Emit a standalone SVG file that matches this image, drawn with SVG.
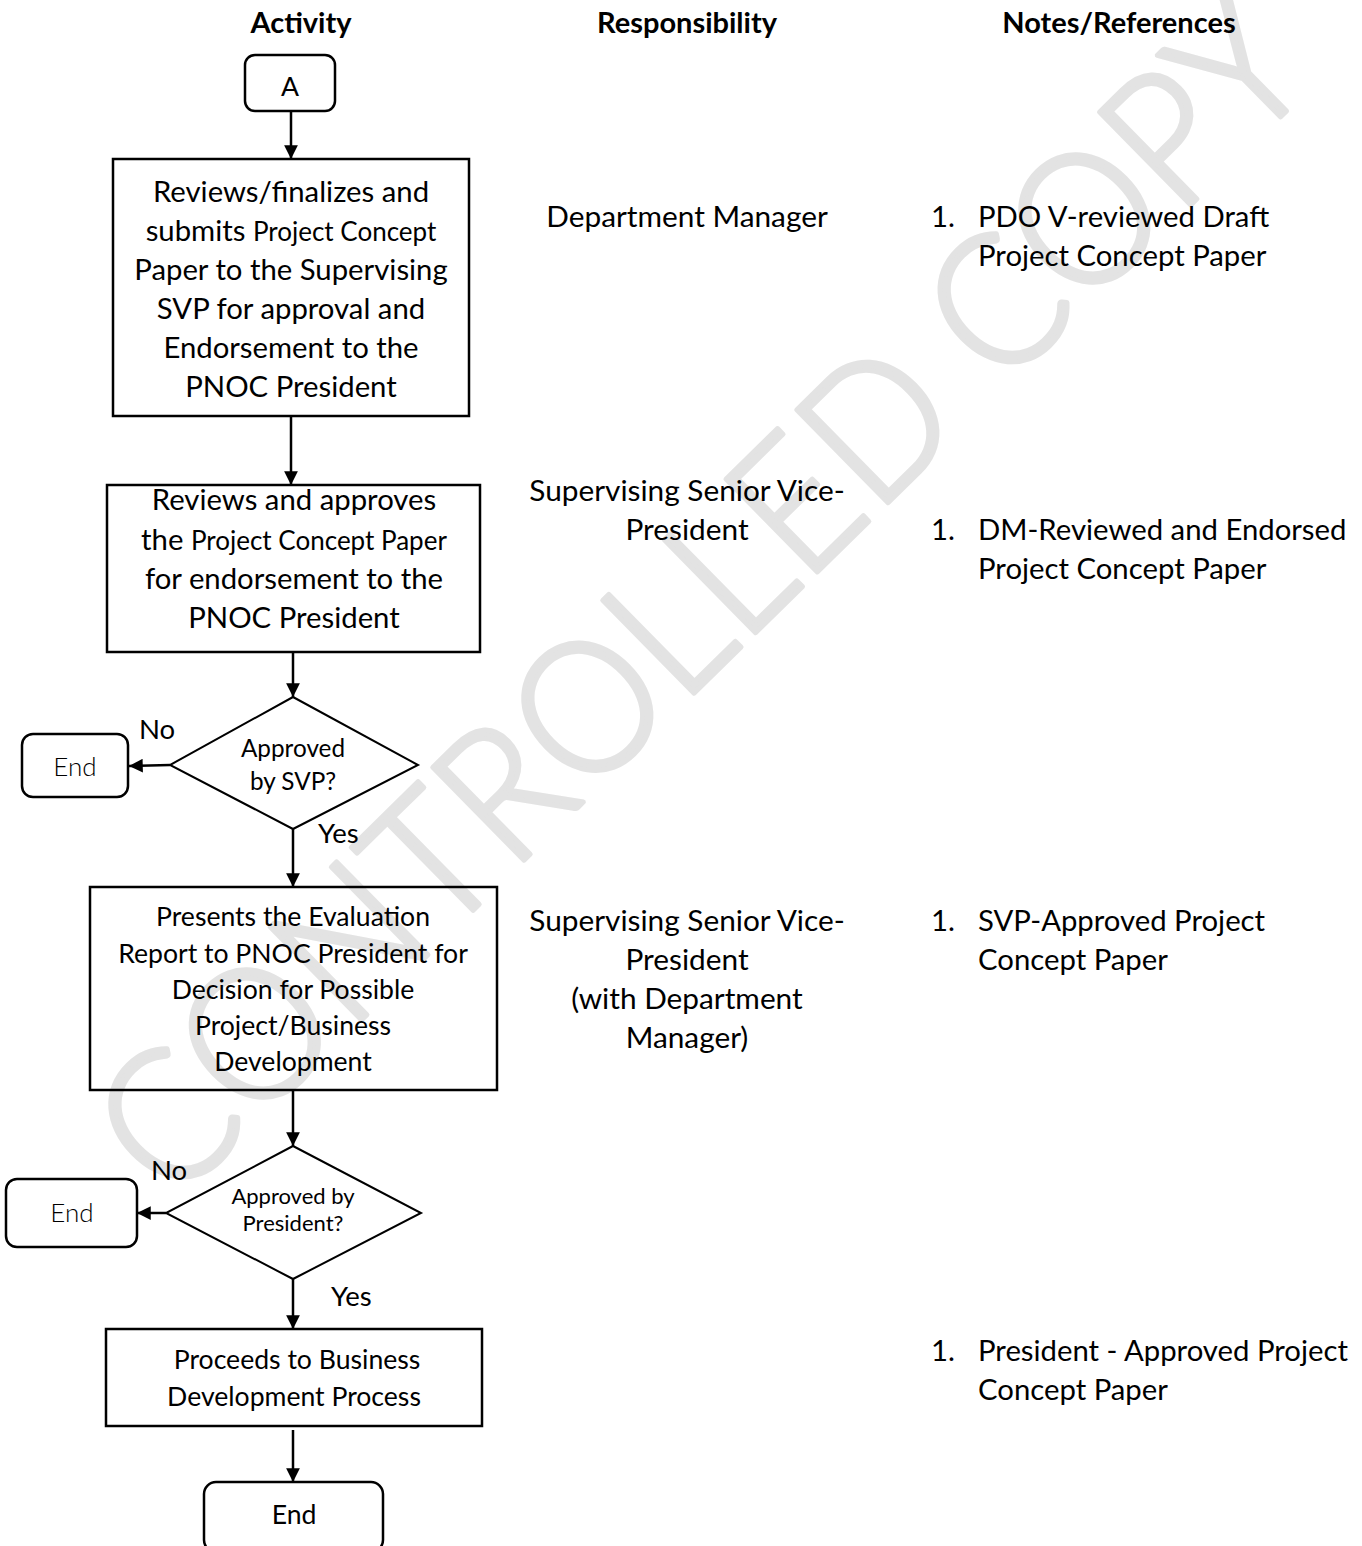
<svg xmlns="http://www.w3.org/2000/svg" width="1362" height="1546" viewBox="0 0 1362 1546">
<style>
text{font-family:Lato,"Open Sans","Liberation Sans",sans-serif;fill:#000}
.hd{font-weight:bold;font-size:29px;text-anchor:middle}
.bx{font-size:29.3px;text-anchor:middle}
.sm{font-size:26px}
.b3{font-size:26.6px;text-anchor:middle}
.d1{font-size:24.3px;text-anchor:middle}
.d2{font-size:22px;text-anchor:middle}
.lb{font-size:27.5px}
.rs{font-size:29.8px;text-anchor:middle}
.nt{font-size:29.3px}
.endl{font-size:26px;font-weight:300;text-anchor:middle}
.shape{fill:none;stroke:#000;stroke-width:2.5}
.dia{fill:none;stroke:#000;stroke-width:2}
.conn{stroke:#000;stroke-width:2.5;fill:none;marker-end:url(#ah)}
.wm{font-family:Lato,"Open Sans",sans-serif;font-weight:300;font-size:184px;fill:#e3e3e3;stroke:#e3e3e3;stroke-width:5;stroke-linejoin:round}
</style>
<defs>
<marker id="ah" viewBox="0 0 10 10" refX="10" refY="5" markerWidth="5.5" markerHeight="5.5" orient="auto" markerUnits="strokeWidth">
<path d="M0,0 L10,5 L0,10 Z" fill="#000"/>
</marker>
</defs>
<rect width="1362" height="1546" fill="#fff"/>
<g id="watermark" transform="translate(-6,-24) rotate(-44.5 748 670)">
<text class="wm" x="-52" y="670" textLength="1610" lengthAdjust="spacingAndGlyphs">CONTROLLED COPY</text>
</g>

<g id="headers">
<text class="hd" x="301" y="33">Activity</text>
<text class="hd" x="687" y="33">Responsibility</text>
<text class="hd" x="1119" y="33">Notes/References</text>
</g>

<g id="connectors">
<line class="conn" x1="291" y1="111" x2="291" y2="159"/>
<line class="conn" x1="291" y1="416" x2="291" y2="485"/>
<line class="conn" x1="293" y1="652" x2="293" y2="697"/>
<line class="conn" x1="170" y1="765" x2="129" y2="766"/>
<line class="conn" x1="293" y1="829" x2="293" y2="887"/>
<line class="conn" x1="293" y1="1090" x2="293" y2="1146"/>
<line class="conn" x1="166" y1="1213" x2="137" y2="1213"/>
<line class="conn" x1="293" y1="1279" x2="293" y2="1329"/>
<line class="conn" x1="293" y1="1430" x2="293" y2="1482"/>
<text class="lb" x="139" y="739">No</text>
<text class="lb" x="318" y="843">Yes</text>
<text class="lb" x="151" y="1180">No</text>
<text class="lb" x="331" y="1306">Yes</text>
</g>

<g id="nodeA">
<rect class="shape" x="245" y="55" width="90" height="56" rx="10"/>
<text class="b3" x="290" y="96">A</text>
</g>

<g id="box1">
<rect class="shape" x="113" y="159" width="356" height="257"/>
<text class="bx" x="291" y="202">Reviews/finalizes and</text>
<text class="bx" x="291" y="241">submits <tspan class="sm">Project Concept</tspan></text>
<text class="bx" x="291" y="280">Paper to the Supervising</text>
<text class="bx" x="291" y="319">SVP for approval and</text>
<text class="bx" x="291" y="358">Endorsement to the</text>
<text class="bx" x="291" y="397">PNOC President</text>
</g>

<g id="box2">
<rect class="shape" x="107" y="485" width="373" height="167"/>
<text class="bx" x="294" y="510">Reviews and approves</text>
<text class="bx" x="294" y="550">the <tspan class="sm">Project Concept Paper</tspan></text>
<text class="bx" x="294" y="589">for endorsement to the</text>
<text class="bx" x="294" y="628">PNOC President</text>
</g>

<g id="decision1">
<polygon class="dia" points="293,697 418,765 293,829 170,765"/>
<text class="d1" x="293" y="757">Approved</text>
<text class="d1" x="293" y="790">by SVP?</text>
</g>

<g id="end1">
<rect class="shape" x="22" y="734" width="106" height="63" rx="11"/>
<text class="endl" x="75" y="776">End</text>
</g>

<g id="box3">
<rect class="shape" x="90" y="887" width="407" height="203"/>
<text class="b3" x="293" y="926">Presents the Evaluation</text>
<text class="b3" x="293" y="963">Report to PNOC President for</text>
<text class="b3" x="293" y="999">Decision for Possible</text>
<text class="b3" x="293" y="1035">Project/Business</text>
<text class="b3" x="293" y="1071">Development</text>
</g>

<g id="decision2">
<polygon class="dia" points="293,1146 421,1213 293,1279 166,1213"/>
<text class="d2" x="293" y="1204">Approved by</text>
<text class="d2" x="293" y="1231">President?</text>
</g>

<g id="end2">
<rect class="shape" x="6" y="1179" width="131" height="68" rx="11"/>
<text class="endl" x="72" y="1222">End</text>
</g>

<g id="box4">
<rect class="shape" x="106" y="1329" width="376" height="97"/>
<text class="b3" x="297" y="1369">Proceeds to Business</text>
<text class="b3" x="294" y="1406">Development Process</text>
</g>

<g id="end3">
<rect class="shape" x="204" y="1482" width="179" height="70" rx="12"/>
<text class="b3" x="294" y="1524">End</text>
</g>

<g id="responsibility">
<text class="rs" x="687" y="227">Department Manager</text>
<text class="rs" x="687" y="501">Supervising Senior Vice-</text>
<text class="rs" x="687" y="540">President</text>
<text class="rs" x="687" y="931">Supervising Senior Vice-</text>
<text class="rs" x="687" y="970">President</text>
<text class="rs" x="687" y="1009">(with Department</text>
<text class="rs" x="687" y="1048">Manager)</text>
</g>

<g id="notes">
<text class="nt" x="931" y="227">1.</text>
<text class="nt" x="978" y="227">PDO V-reviewed Draft</text>
<text class="nt" x="978" y="266">Project Concept Paper</text>
<text class="nt" x="931" y="540">1.</text>
<text class="nt" x="978" y="540">DM-Reviewed and Endorsed</text>
<text class="nt" x="978" y="579">Project Concept Paper</text>
<text class="nt" x="931" y="931">1.</text>
<text class="nt" x="978" y="931">SVP-Approved Project</text>
<text class="nt" x="978" y="970">Concept Paper</text>
<text class="nt" x="931" y="1361">1.</text>
<text class="nt" x="978" y="1361">President - Approved Project</text>
<text class="nt" x="978" y="1400">Concept Paper</text>
</g>
</svg>
